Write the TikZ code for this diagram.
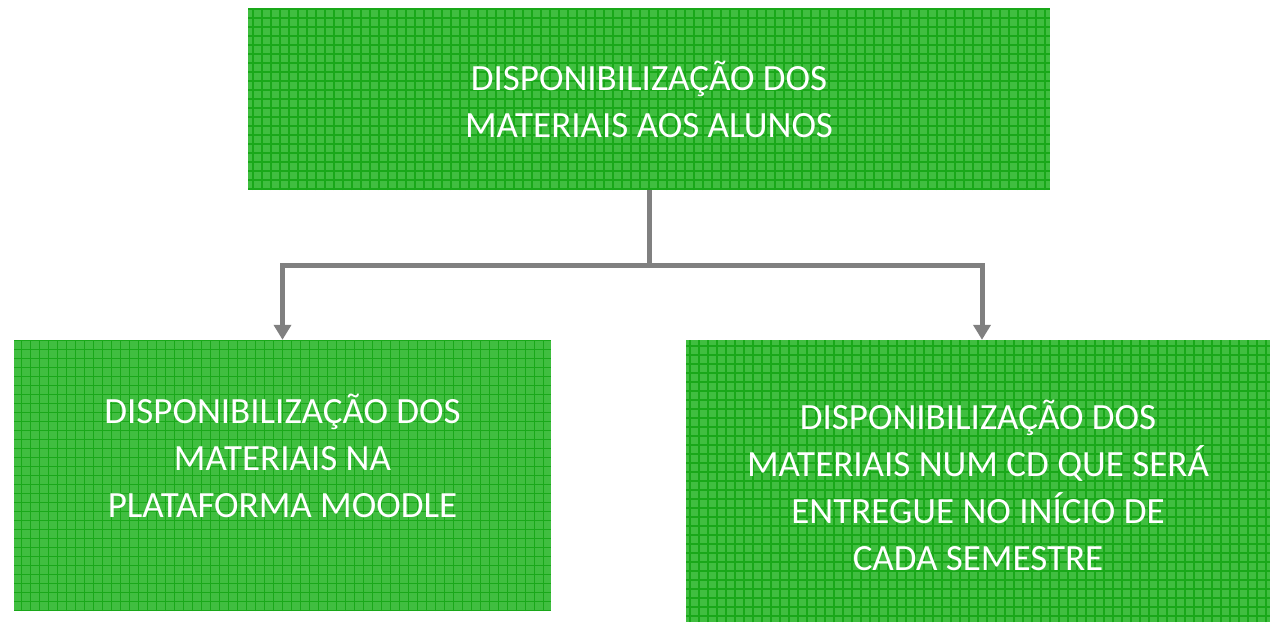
\documentclass[tikz,border=0pt]{standalone}
\usepackage{fontspec}
\setmainfont{Carlito}
\usepackage{tikz}
\usetikzlibrary{arrows.meta, positioning}
\definecolor{boxgreen}{RGB}{64,190,64}
\definecolor{gridgreen}{RGB}{25,168,25}
\definecolor{conngray}{RGB}{128,128,128}

\begin{document}
\begin{tikzpicture}[
    x=1pt, y=-1pt,
    box/.style={rectangle, fill=boxgreen, inner sep=0pt,
        path picture={
            \draw[gridgreen, line width=1.2pt]
                (path picture bounding box.north west) grid[step=9pt]
                (path picture bounding box.south east);
        }},
    boxtext/.style={text=white, align=center, font=\fontsize{37}{47}\selectfont},
    conn/.style={-{Triangle[width=17pt,length=15pt]}, line width=5pt, conngray}
]
    \useasboundingbox (0,0) rectangle (1270,622);

    % Boxes
    \node[box, minimum width=802pt, minimum height=182pt] (alunos) at (649,99) {};
    \node[box, minimum width=537pt, minimum height=271pt] (moodle) at (282.5,475.5) {};
    \node[box, minimum width=584pt, minimum height=282pt] (cd) at (978,481) {};

    % Texts
    \node[boxtext] (alunostext) at (alunos.center) {DISPONIBILIZAÇÃO DOS\\MATERIAIS AOS ALUNOS};
    \node[boxtext] (moodletext) at ([yshift=20pt]moodle.center) {DISPONIBILIZAÇÃO DOS\\MATERIAIS NA\\PLATAFORMA MOODLE};
    \node[boxtext] (cdtext) at ([yshift=-4pt]cd.center) {DISPONIBILIZAÇÃO DOS\\MATERIAIS NUM CD QUE SERÁ\\ENTREGUE NO INÍCIO DE\\CADA SEMESTRE};

    % Arrows
    \coordinate (split) at (649,265);
    \draw[conn] (alunos.south) -- (split) -| (moodle.north);
    \draw[conn] (split) -| ([xshift=4pt]cd.north);
\end{tikzpicture}
\end{document}
